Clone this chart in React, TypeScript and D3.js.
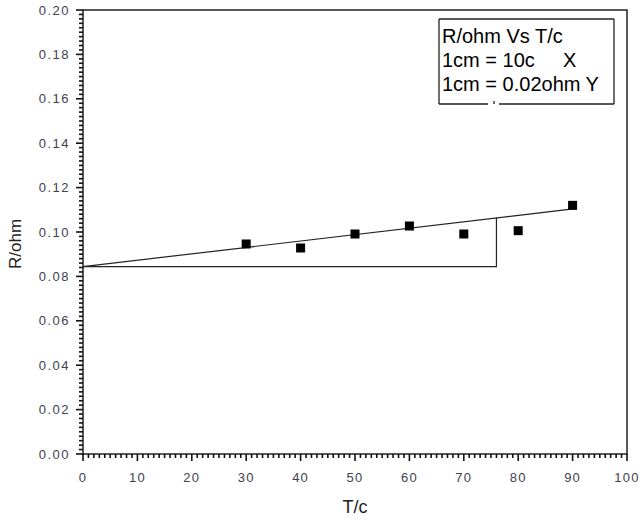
import React from "react";
import * as d3 from "d3";

const temps = [30, 40, 50, 60, 70, 80, 90];
const resistances = [0.0946, 0.0928, 0.0991, 0.1027, 0.0991, 0.1006, 0.112];
const fitLine: [number, number][] = [[0, 0.0844], [90.5, 0.1105]];
const slopeTriangle: [number, number][] = [[0, 0.0844], [76, 0.0844], [76, 0.1064]];
const xTicks = [0, 10, 20, 30, 40, 50, 60, 70, 80, 90, 100];
const yTicks = [0, 0.02, 0.04, 0.06, 0.08, 0.1, 0.12, 0.14, 0.16, 0.18, 0.2];
const legendLines = ["R/ohm Vs T/c", "1cm = 10c", "1cm = 0.02ohm Y"];

export default function App() {
  const W = 640, H = 522;
  const left = 83, right = 627, top = 10, bottom = 454;
  const x = d3.scaleLinear().domain([0, 100]).range([left, right]);
  const y = d3.scaleLinear().domain([0, 0.2]).range([bottom, top]);
  const line = d3.line<[number, number]>().x(d => x(d[0])).y(d => y(d[1]));
  const minorX = d3.range(0, 101, 1);
  const minorY = d3.range(0, 101, 1);
  const labelColor = "#404050";
  const font = "'Liberation Sans', Arial, sans-serif";
  const sq = 9;

  return (
    <svg width={W} height={H} style={{ position: "absolute", left: 0, top: 0, background: "#fff" }} fontFamily={font}>
      {/* frame */}
      <rect x={left} y={top} width={right - left} height={bottom - top} fill="none" stroke="#000" strokeWidth={1.3} />
      {/* ticks */}
      <g stroke="#111" strokeWidth={1.6}>
        {minorX.map(v => (
          <line key={"xt" + v} x1={x(v)} x2={x(v)} y1={bottom} y2={bottom + (v % 10 === 0 ? 7 : 4)} />
        ))}
        {minorY.map(i => (
          <line key={"yt" + i} x1={left} x2={left - (i % 10 === 0 ? 7 : 4)} y1={y(i * 0.002)} y2={y(i * 0.002)} />
        ))}
      </g>
      {xTicks.map(v => (
        <text key={"xl" + v} x={x(v)} y={482} textAnchor="middle" fontSize={13} letterSpacing={1.2} fill={labelColor}>{v}</text>
      ))}
      {yTicks.map(v => (
        <text key={"yl" + v} x={70} y={y(v) + 4.5} textAnchor="end" fontSize={13} letterSpacing={1.5} fill={labelColor}>{v.toFixed(2)}</text>
      ))}
      {/* axis titles */}
      <text x={355} y={513} textAnchor="middle" fontSize={18} fill="#222">T/c</text>
      <text transform={`translate(21,244) rotate(-90)`} textAnchor="middle" fontSize={17} fill="#222">R/ohm</text>
      {/* fit line & triangle */}
      <path d={line(fitLine) || ""} fill="none" stroke="#222" strokeWidth={1.2} />
      <path d={line(slopeTriangle) || ""} fill="none" stroke="#222" strokeWidth={1.2} />
      {/* points */}
      {temps.map((t, i) => (
        <rect key={"p" + i} x={x(t) - sq / 2} y={y(resistances[i]) - sq / 2} width={sq} height={sq} fill="#000" />
      ))}
      {/* legend */}
      <g stroke="#222" strokeWidth={1.3} fill="none">
        <line x1={439} y1={19} x2={614} y2={19} />
        <line x1={439} y1={19} x2={439} y2={104} />
        <line x1={614} y1={19} x2={614} y2={104} />
        <line x1={439} y1={104} x2={488} y2={104} />
        <line x1={499} y1={104} x2={614} y2={104} />
        <line x1={494} y1={101} x2={494} y2={104} />
      </g>
      <g fontSize={20} fill="#000">
        <text x={442} y={43}>{legendLines[0]}</text>
        <text x={442} y={67}>{legendLines[1]}</text>
        <text x={563} y={67}>X</text>
        <text x={442} y={91}>{legendLines[2]}</text>
      </g>
    </svg>
  );
}
